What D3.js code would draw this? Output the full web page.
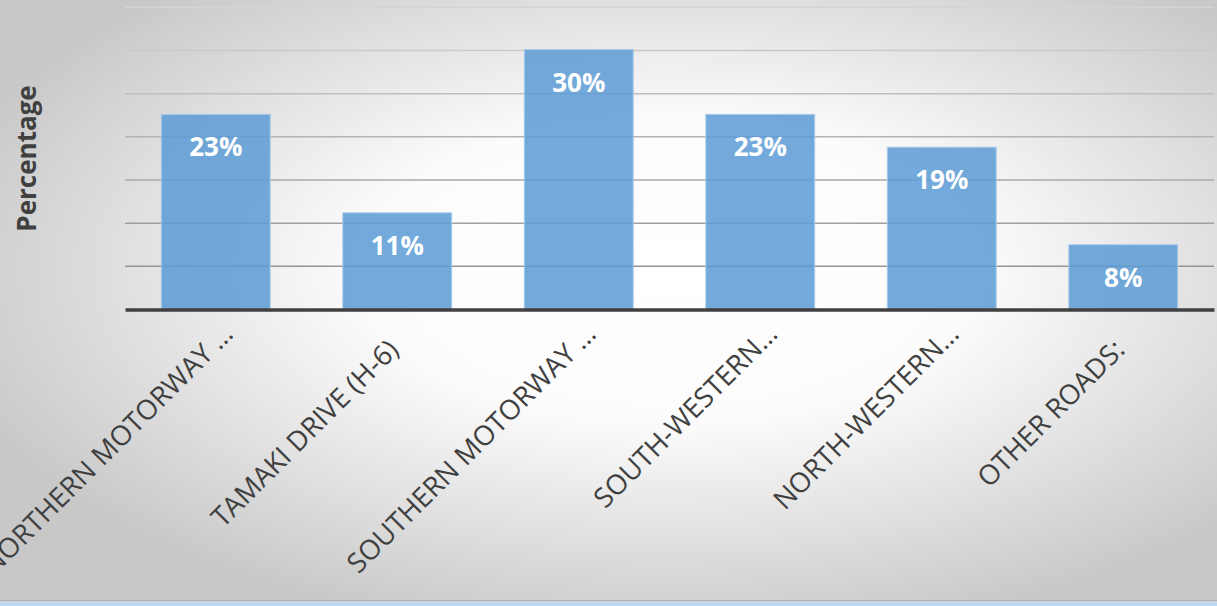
<!DOCTYPE html>
<html>
<head>
<meta charset="utf-8">
<script src="https://cdn.jsdelivr.net/npm/d3@7"></script>
<style>
  html, body { margin: 0; padding: 0; background: #fff; overflow: hidden; }
  svg { display: block; }
</style>
</head>
<body>
<svg id="chart" width="1217" height="606"></svg>
<script>
const categories = ["NORTHERN MOTORWAY \u2026", "TAMAKI DRIVE (H-6)", "SOUTHERN MOTORWAY \u2026", "SOUTH-WESTERN\u2026", "NORTH-WESTERN\u2026", "OTHER ROADS:"];
const values = [22.6, 11.2, 30.1, 22.6, 18.8, 7.5];
const valueLabels = ["23%", "11%", "30%", "23%", "19%", "8%"];
const yTicks = [0, 5, 10, 15, 20, 25, 30, 35];
const yTitle = "Percentage";

(function () {
const W = 1217, H = 606;
const svg = d3.select("#chart");
const defs = svg.append("defs");

const bg = defs.append("radialGradient").attr("id", "bg")
  .attr("cx", "0.55").attr("cy", "0.45").attr("r", "0.62")
  .attr("gradientUnits", "objectBoundingBox");
bg.append("stop").attr("offset", "0").attr("stop-color", "#ffffff");
bg.append("stop").attr("offset", "0.4").attr("stop-color", "#fcfcfc");
bg.append("stop").attr("offset", "1").attr("stop-color", "#c8c8c8");

svg.append("rect").attr("x", 0).attr("y", 0).attr("width", W).attr("height", 601).attr("fill", "url(#bg)");
svg.append("rect").attr("x", 0).attr("y", 600).attr("width", W).attr("height", 1.5).attr("fill", "#b0b0b0");
svg.append("rect").attr("x", 0).attr("y", 601.5).attr("width", W).attr("height", 4.5).attr("fill", "#bdd7ee");

const pLeft = 125, pRight = 1214, pTop = 7.3, base = 309.5;
const x = d3.scaleBand().domain(categories).range([pLeft, pRight]).paddingInner(0.4).paddingOuter(0.2);
const y = d3.scaleLinear().domain([0, 35]).range([base, pTop]);

const gridColor = d3.scaleLinear().domain([0, 35]).range(["#8a8a8a", "#d4d4d4"]);

// gridlines
svg.append("g").selectAll("line").data(yTicks.filter(d => d > 0)).join("line")
  .attr("x1", pLeft).attr("x2", pRight)
  .attr("y1", d => y(d)).attr("y2", d => y(d))
  .attr("stroke", d => gridColor(d)).attr("stroke-width", 1.5);

// bars
svg.append("g").selectAll("rect").data(values).join("rect")
  .attr("x", (d, i) => x(categories[i]))
  .attr("y", d => y(d))
  .attr("width", x.bandwidth())
  .attr("height", d => base - y(d))
  .attr("fill", "#5b9bd5").attr("fill-opacity", 0.85)
  .attr("stroke", "#a9cbeb").attr("stroke-width", 1);

// baseline axis
const xAxis = d3.axisBottom(x).tickSize(0).tickFormat("");
const ax = svg.append("g").attr("transform", `translate(0,${base})`).call(xAxis);
ax.select(".domain").attr("stroke", "#404040").attr("stroke-width", 3.5);

// value labels
svg.append("g").selectAll("text").data(values).join("text")
  .attr("x", (d, i) => x(categories[i]) + x.bandwidth() / 2)
  .attr("y", d => y(d) + 42)
  .attr("text-anchor", "middle")
  .attr("font-family", "'Open Sans', sans-serif")
  .attr("font-weight", "bold")
  .attr("font-size", 26)
  .attr("fill", "#ffffff")
  .text((d, i) => valueLabels[i]);

// category labels (truncated labels overflow a little further up-right)
svg.append("g").selectAll("text").data(categories).join("text")
  .attr("transform", d => {
    const s = d.endsWith("\u2026") ? 18 : 2;
    return `translate(${x(d) + x.bandwidth() / 2 + 1 + s},${base + 44 - s}) rotate(-45)`;
  })
  .attr("text-anchor", "end")
  .attr("font-family", "'Open Sans', sans-serif")
  .attr("font-size", 27.5)
  .attr("fill", "#404040")
  .text(d => d);

// y title
svg.append("text")
  .attr("transform", `translate(36,${158.5}) rotate(-90)`)
  .attr("text-anchor", "middle")
  .attr("font-family", "'Open Sans', sans-serif")
  .attr("font-weight", "bold")
  .attr("font-size", 26)
  .attr("fill", "#404040")
  .text(yTitle);
})();
</script>
</body>
</html>
